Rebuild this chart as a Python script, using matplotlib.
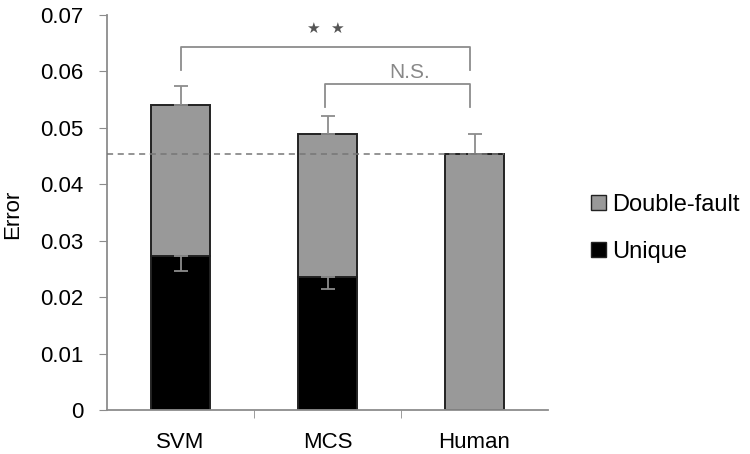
import matplotlib
matplotlib.use("Agg")
import matplotlib.pyplot as plt
from matplotlib.patches import Patch

plt.rcParams['font.family'] = ['Liberation Sans', 'DejaVu Sans']

categories = ["SVM", "MCS", "Human"]
unique = [0.0273, 0.0236, 0.0]
total = [0.0541, 0.0489, 0.0454]
total_err = [0.0033, 0.0032, 0.0035]
unique_err = [0.0027, 0.0022, 0.0]
human_level = 0.0454
yticks = [0, 0.01, 0.02, 0.03, 0.04, 0.05, 0.06, 0.07]
ytick_labels = ["0", "0.01", "0.02", "0.03", "0.04", "0.05", "0.06", "0.07"]

double_fault = [t - u for t, u in zip(total, unique)]

gray = "#999999"
axis_col = "#8c8c8c"
err_col = "#8c8c8c"

fig = plt.figure(figsize=(7.5, 4.54), dpi=100)
ax = fig.add_axes([0.1427, 0.097, 0.588, 0.870])

x = list(range(len(categories)))
w = 0.4
ax.bar(x, unique, w, color="black", edgecolor="#222222", linewidth=1.4, zorder=2)
ax.bar(x, double_fault, w, bottom=unique, color=gray, edgecolor="#222222", linewidth=1.4, zorder=2)

# error bars
ax.errorbar(x, total, yerr=[[0]*3, total_err], fmt='none', ecolor=err_col,
            elinewidth=1.3, capsize=4.7, capthick=1.3, zorder=3)
xu = [i for i in x if unique[i] > 0]
ax.errorbar(xu, [unique[i] for i in xu], yerr=[[unique_err[i] for i in xu], [0]*len(xu)],
            fmt='none', ecolor=err_col, elinewidth=1.3, capsize=4.7, capthick=1.3, zorder=3)

# dashed human level
ax.plot([-0.5, 2 + w/2], [human_level, human_level], linestyle=(0, (4, 3)),
        color="#777777", linewidth=1.1, zorder=4, clip_on=False)

# significance brackets
bc = "#8c8c8c"
ax.plot([0, 0, 1.97, 1.97], [0.0603, 0.0643, 0.0643, 0.0603], color=bc, lw=1.3, clip_on=False)
for sx in (0.898, 1.061):
    ax.text(sx, 0.0677, "\u2605", ha="center", va="center", fontsize=11,
            color="#555555", family="DejaVu Sans")
ax.plot([0.98, 0.98, 1.97, 1.97], [0.0537, 0.0578, 0.0578, 0.0537], color=bc, lw=1.3, clip_on=False)
ax.text(1.56, 0.0598, "N.S.", ha="center", va="center", fontsize=15, color="#888888")

ax.set_xlim(-0.5, 2.5)
ax.set_ylim(0, 0.07)
ax.set_yticks(yticks)
ax.set_yticklabels(ytick_labels, fontsize=16)
ax.set_xticks(x)
ax.set_xticklabels(categories, fontsize=16)
ax.tick_params(axis='x', length=0, pad=16)
ax.set_xticks([0.5, 1.5], minor=True)
ax.tick_params(axis='x', which='minor', length=6, color=axis_col, direction='out')
ax.tick_params(axis='y', length=6, color=axis_col, direction='out', pad=11)

for s in ["top", "right"]:
    ax.spines[s].set_visible(False)
for s in ["left", "bottom"]:
    ax.spines[s].set_color(axis_col)
    ax.spines[s].set_linewidth(1.3)

ax.set_ylabel("Error", fontsize=16)
ax.yaxis.set_label_coords(-0.190, 0.496)

handles = [Patch(facecolor=gray, edgecolor="#222222", label="Double-fault"),
           Patch(facecolor="black", edgecolor="#222222", label="Unique")]
fig.legend(handles=handles, loc="center left", bbox_to_anchor=(0.788, 0.497),
           frameon=False, fontsize=17, handlelength=0.63, handleheight=0.63,
           handletextpad=0.25, labelspacing=1.05, borderpad=0, borderaxespad=0)

fig.savefig("out.png", dpi=100)
